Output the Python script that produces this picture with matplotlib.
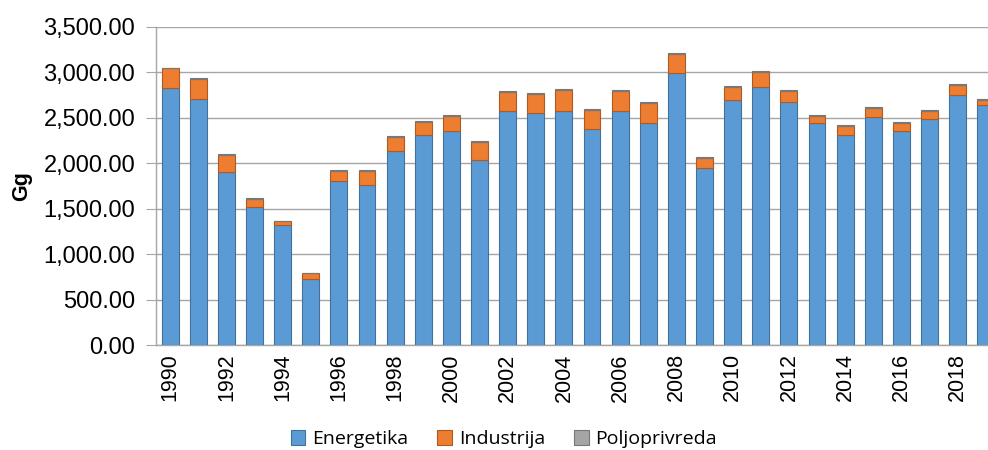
import numpy as np
import matplotlib
matplotlib.use('Agg')
from matplotlib import pyplot as plt
from matplotlib.ticker import FuncFormatter

years = list(range(1990, 2020))

energetika = [2827, 2713, 1908, 1522, 1323, 728, 1809, 1761, 2139, 2309,
              2353, 2033, 2577, 2551, 2578, 2375, 2573, 2441, 2992, 1945,
              2702, 2842, 2672, 2441, 2316, 2511, 2353, 2485, 2757, 2639]
industrija = [217, 213, 180, 84, 37, 62, 106, 154, 148, 147,
              172, 198, 206, 210, 227, 209, 221, 220, 210, 117,
              140, 161, 122, 77, 99, 95, 92, 96, 103, 63]
poljoprivreda = [10, 10, 9, 9, 8, 8, 9, 9, 10, 10,
                 10, 10, 10, 10, 10, 10, 10, 10, 10, 9,
                 10, 10, 10, 10, 10, 10, 10, 10, 10, 10]

series_names = ['Energetika', 'Industrija', 'Poljoprivreda']

fig = plt.figure(figsize=(9.88, 4.5), dpi=100)
ax = fig.add_axes([0.158, 0.2333, 0.842, 0.7067])

x = np.arange(len(years))
e = np.array(energetika)
i = np.array(industrija)
p = np.array(poljoprivreda)

w = 0.6
ax.bar(x, e, w, color='#5b9bd5', edgecolor='#41719c', linewidth=0.8, label=series_names[0], zorder=3)
ax.bar(x, i, w, bottom=e, color='#ed7d31', edgecolor='#ae5a21', linewidth=0.8, label=series_names[1], zorder=3)
ax.bar(x, p, w, bottom=e + i, color='#a5a5a5', edgecolor='#787878', linewidth=0.8, label=series_names[2], zorder=3)

ax.set_xlim(-0.5, 29.08)
ax.set_ylim(0, 3500)
ax.set_yticks(np.arange(0, 3501, 500))
ax.yaxis.set_major_formatter(FuncFormatter(lambda v, pos: '{:,.2f}'.format(v)))
ax.set_xticks(x[::2])
ax.set_xticklabels([str(y) for y in years[::2]], rotation=90)

ax.grid(axis='y', color='#a6a6a6', linewidth=1.0, zorder=0)
for s in ['top', 'right']:
    ax.spines[s].set_visible(False)
ax.spines['left'].set_color('#a6a6a6')
ax.spines['bottom'].set_color('#a6a6a6')
ax.spines['left'].set_linewidth(1.0)
ax.spines['bottom'].set_linewidth(1.0)

ax.tick_params(axis='y', length=7, color='#a6a6a6', labelsize=17, pad=8)
ax.tick_params(axis='x', length=0, labelsize=15.5, pad=6)
for lbl in ax.get_xticklabels() + ax.get_yticklabels():
    lbl.set_family('Liberation Sans')

ax.set_ylabel('Gg', fontsize=15.5, fontweight='bold', family='Liberation Sans', labelpad=8)

leg = fig.legend(loc='lower center', bbox_to_anchor=(0.51, -0.035), ncol=3, frameon=False,
                 prop={'family': 'Open Sans', 'size': 14}, handlelength=0.75, handleheight=0.75,
                 handletextpad=0.35, columnspacing=1.5)

fig.savefig('out.png', dpi=100)
